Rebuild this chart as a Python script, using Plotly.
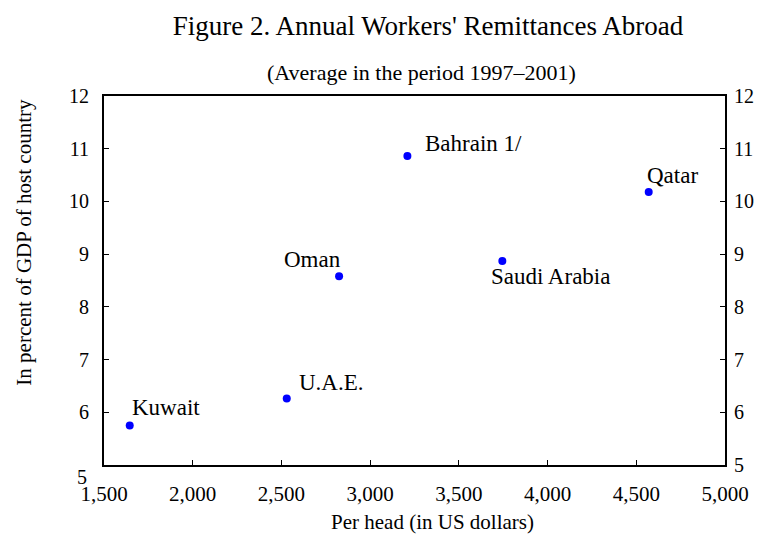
import plotly.graph_objects as go

countries = ["Kuwait", "U.A.E.", "Oman", "Bahrain 1/", "Saudi Arabia", "Qatar"]
per_head = [1645, 2530, 2825, 3210, 3745, 4570]
pct_gdp = [5.75, 6.26, 8.58, 10.86, 8.87, 10.18]

x_ticks = [1500, 2000, 2500, 3000, 3500, 4000, 4500, 5000]
x_tick_labels = ["1,500", "2,000", "2,500", "3,000", "3,500", "4,000", "4,500", "5,000"]
y_ticks = [5, 6, 7, 8, 9, 10, 11, 12]
y_tick_labels_left = ["", "6", "7", "8", "9", "10", "11", "12"]
y_tick_labels_right = ["5", "6", "7", "8", "9", "10", "11", "12"]

# label placement (styling only)
label_anchor = ["left", "left", "right", "left", "left", "left"]
label_dx = [0, 10, 4, 16, -13, -4]
label_dy = [18, 16, 17, 13, -15, 16]

FONT = "Liberation Serif, Times New Roman, serif"

# The page body has an 8px margin; size the figure so it fits the 766x536 window.
OFF = 8
W, H = 766 - OFF, 536 - OFF
L, T = 104 - OFF, 96 - OFF
R = 766 - 730
B = H - (465 - OFF)
PW, PH = W - L - R, H - T - B


def px_x(page_x):
    return (page_x - OFF - L) / PW


def px_y(page_y):
    return (T + PH - (page_y - OFF)) / PH


fig = go.Figure()
fig.add_trace(go.Scatter(
    x=per_head, y=pct_gdp, mode="markers",
    marker=dict(color="#0000ff", size=8),
    showlegend=False, hoverinfo="skip"))
# invisible trace to activate right axis
fig.add_trace(go.Scatter(x=[per_head[0]], y=[pct_gdp[0]], yaxis="y2",
                         mode="markers", marker=dict(opacity=0),
                         showlegend=False, hoverinfo="skip"))

for name, xv, yv, anc, dx, dy in zip(countries, per_head, pct_gdp, label_anchor, label_dx, label_dy):
    fig.add_annotation(x=xv, y=yv, xref="x", yref="y", text=name, showarrow=False,
                       xanchor=anc, yanchor="middle", xshift=dx, yshift=dy,
                       font=dict(family=FONT, size=23, color="black"))

axis_common = dict(showline=True, linecolor="black", linewidth=2, ticks="inside",
                   ticklen=5, tickwidth=1, tickcolor="black", showgrid=False,
                   zeroline=False)

fig.update_layout(
    width=W, height=H,
    margin=dict(l=L, r=R, t=T, b=B),
    paper_bgcolor="white", plot_bgcolor="white",
    font=dict(family=FONT, color="black"),
    title=dict(text="Figure 2. Annual Workers' Remittances Abroad",
               x=(428 - OFF) / W, xref="container", xanchor="center",
               y=1 - (26 - OFF) / H, yref="container", yanchor="middle",
               font=dict(family=FONT, size=27, color="black")),
    xaxis=dict(range=[1500, 5000], tickvals=x_ticks, ticktext=x_tick_labels,
               tickfont=dict(size=21), mirror=True, ticklabelstandoff=9,
               **axis_common),
    yaxis=dict(range=[5, 12], tickvals=y_ticks, ticktext=y_tick_labels_left,
               tickfont=dict(size=20), ticklabelstandoff=9,
               **axis_common),
    yaxis2=dict(range=[5, 12], tickvals=y_ticks, ticktext=y_tick_labels_right,
                tickfont=dict(size=20), ticklabelstandoff=3,
                overlaying="y", side="right", anchor="x", **axis_common),
)
# subtitle
fig.add_annotation(text="(Average in the period 1997–2001)", xref="paper", yref="paper",
                   x=px_x(424), y=px_y(72), xanchor="center", yanchor="middle",
                   showarrow=False, font=dict(family=FONT, size=22, color="black"))
# x-axis title
fig.add_annotation(text="Per head (in US dollars)", xref="paper", yref="paper",
                   x=px_x(435), y=px_y(522), xanchor="center", yanchor="middle",
                   showarrow=False, font=dict(family=FONT, size=21, color="black"))
# y-axis title
fig.add_annotation(text="In percent of GDP of host country", xref="paper", yref="paper",
                   x=px_x(23), y=px_y(242), xanchor="center", yanchor="middle",
                   textangle=-90, showarrow=False, font=dict(family=FONT, size=21, color="black"))
# lowered bottom-left tick label
fig.add_annotation(text=y_tick_labels_right[0], xref="paper", yref="y", x=px_x(82), y=y_ticks[0],
                   xanchor="center", yanchor="middle", yshift=-12,
                   showarrow=False, font=dict(family=FONT, size=20, color="black"))

fig.write_html("out.html")
